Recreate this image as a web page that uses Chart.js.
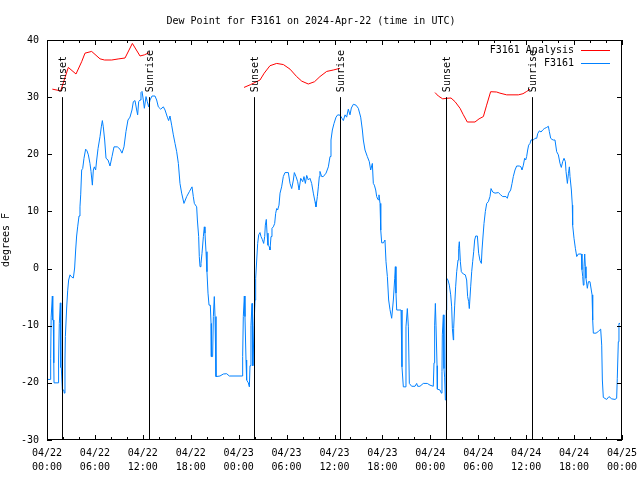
<!DOCTYPE html>
<html>
<head>
<meta charset="utf-8">
<script src="https://cdn.jsdelivr.net/npm/chart.js@4/dist/chart.umd.min.js"></script>
<style>
  html, body { margin: 0; padding: 0; background: #fff; }
  canvas { display: block; }
</style>
</head>
<body>
<canvas id="dew" width="640" height="480"></canvas>
<script>
// hours since 04/22 00:00 UTC
const obsHours = [
  0.0,0.4,0.46,0.52,0.58,0.67,0.72,0.79,0.85,0.88,1.42,1.45,1.54,1.6,1.67,1.73,1.79,1.92,2.1,2.17,2.25,2.3,2.46,2.59,2.71,2.88,3.1,3.3,3.46,3.59,3.71,3.84,4.01,4.13,4.22,
  4.34,4.47,4.63,4.84,5.01,5.18,5.38,5.51,5.68,5.8,5.93,6.09,6.22,6.39,6.64,6.8,6.93,7.05,7.22,7.39,7.64,7.89,8.14,8.39,8.81,9.14,9.39,9.64,9.89,10.14,10.39,10.64,10.81,11.02,11.23,11.35,11.48,11.65,11.77,11.9,12.06,12.19,12.4,12.56,12.73,12.9,13.15,13.52,13.73,13.94,14.23,14.57,14.78,15.07,15.23,15.4,15.61,15.82,16.03,16.24,16.45,16.65,16.86,17.15,17.49,17.82,18.16,18.32,18.45,18.74,
  18.83,18.99,19.07,19.16,19.28,19.41,19.58,19.7,19.78,19.91,20.03,20.16,20.29,20.45,20.54,20.58,20.74,20.83,20.95,21.04,21.16,21.66,22.08,22.5,22.83,24.48,
  24.5,24.58,24.71,24.79,24.92,25.0,25.21,25.34,25.42,25.54,25.67,25.7,25.72,25.74,25.76,25.78,25.8,25.92,26.05,26.13,26.26,26.38,26.51,26.67,26.8,26.96,27.13,27.26,27.34,27.46,27.55,27.67,27.84,27.92,28.05,28.17,28.34,28.51,28.63,28.76,28.88,29.05,
  29.18,29.38,29.59,29.8,30.22,30.43,30.64,30.85,30.97,31.18,31.39,31.56,31.77,32.02,32.18,32.35,32.52,32.72,32.93,33.14,33.35,33.56,33.68,33.85,33.98,34.1,34.18,34.39,34.6,34.94,35.23,35.44,35.56,35.73,35.94,36.19,36.4,36.69,36.94,37.11,37.32,37.52,37.73,37.94,38.11,38.36,38.69,38.98,39.28,39.49,39.61,39.82,40.11,40.36,40.53,40.74,40.86,40.99,41.16,41.28,41.45,41.57,41.7,41.78,
  41.8,41.91,42.12,42.32,42.45,42.62,42.78,42.95,43.16,43.37,43.54,43.62,43.7,43.79,44.33,44.45,44.62,44.83,44.95,45.12,45.25,45.37,45.66,46.08,46.29,46.41,46.7,
  47.12,47.62,47.96,48.37,48.46,48.54,48.63,48.71,48.84,48.88,49.21,49.38,49.46,49.5,49.63,49.71,49.79,49.88,49.96,50.0,50.05,50.21,50.38,50.55,50.67,50.76,50.88,50.92,51.05,51.17,51.3,51.47,51.55,51.63,51.76,51.88,52.13,52.38,52.55,52.67,52.8,52.88,53.05,53.18,53.3,53.43,53.55,53.68,53.89,54.05,54.22,54.39,54.47,54.6,54.72,54.89,55.06,
  55.26,55.47,55.6,55.81,56.1,56.52,56.81,57.06,57.48,57.64,57.81,58.06,58.23,58.39,58.6,58.81,59.14,59.35,59.48,59.65,59.81,59.94,60.06,60.19,60.31,60.48,60.61,60.73,60.9,61.11,61.32,61.44,61.65,61.86,62.07,62.27,62.57,62.78,62.9,63.07,63.24,63.4,63.61,63.82,64.03,64.24,64.4,64.57,64.74,64.91,64.99,65.16,65.29,65.41,65.49,65.66,65.78,
  65.82,65.99,66.16,66.33,66.53,66.91,66.99,67.08,67.16,67.24,67.33,67.41,67.49,67.66,67.79,67.99,68.25,68.33,68.41,68.75,69.04,69.33,69.46,69.54,69.66,70.08,70.37,70.71,71.12,71.33,71.41,71.54,71.62,71.75
];
const obsDew = [
  -19.4,-19.4,-15.8,-8.5,-8.5,-4.8,-9.0,-9.0,-16.5,-20,-20,-16,-9.6,-9.6,-6,-17.3,-17.3,-21.25,-21.25,-21.8,-16,-11.9,-6.9,-3.9,-2,-1.1,-1.5,-1.65,0.1,3.25,5.7,7.3,9.2,10.8,12.9,
  17.25,17.5,19.3,20.9,20.6,19.9,18.4,17.0,14.6,17.25,17.8,17.25,19.0,21.0,23.1,24.8,25.9,24.8,22.5,19.3,19.0,17.95,19.6,21.3,21.3,20.9,20.2,21.3,24.0,26.0,26.5,27.75,29.2,29.4,27.75,26.9,29.2,29.5,30.8,31.0,29.5,28.05,30.1,29.2,28.3,29.5,30.2,30.2,29.5,28.3,27.9,28.3,27.75,26.5,25.9,26.7,25.1,23.4,21.9,20.45,18.4,14.9,13.2,11.4,12.6,13.45,14.3,12.6,11.4,10.8,
  8.5,5.6,2.1,0.33,0.9,2.67,5.6,7.3,6.2,2.95,-0.55,-4.3,-6.4,-6.4,-9.6,-15.4,-15.4,-8.4,-4.9,-8.4,-18.9,-18.8,-18.45,-18.4,-18.8,-18.8,
  -15.4,-8.4,-4.8,-8.4,-16,-19.5,-20,-20.7,-17,-10,-6.1,-11,-17,-11,-17,-12,-17,-10,-5.5,-1.7,1.5,4.4,5.9,6.3,5.6,5.1,4.4,5.6,7.6,8.6,6.2,4.1,3.8,3.25,5.6,7.05,7.3,7.9,9.65,10.5,10.25,11.1,
  13.2,14.3,16.1,16.8,16.8,14.9,14.0,15.5,16.8,16.1,15.2,13.75,15.8,15.2,16.1,14.9,16.3,15.5,15.8,14.9,13.2,11.7,10.8,12.6,14.3,16.1,17.0,16.1,16.1,16.7,17.8,19.6,22.5,24.25,25.4,26.5,26.9,26.85,26.3,25.9,26.9,26.5,27.9,26.9,28.1,28.75,28.6,28.05,26.5,24.25,22.5,20.75,19.6,18.7,17.25,18.4,14.9,14.6,13.75,12.6,12.05,12.9,11.4,10.25,
  6.75,4.5,4.5,5.0,1.2,-1.4,-5.5,-7.2,-8.7,-5.5,-1.7,0.33,-4.3,-7.25,-7.25,-17.2,-20.7,-20.7,-10.2,-7.0,-10.2,-20.1,-20.6,-20.6,-20.1,-20.6,-20.6,
  -20.1,-20.1,-20.4,-20.6,-16.5,-9.9,-6.1,-9.9,-17,-21.1,-21.25,-21.8,-18,-11.6,-8.1,-17.5,-19,-23,-17.6,-7.25,-1.7,-2.0,-2.9,-4.6,-6.7,-10.5,-12.5,-10.5,-6.4,-3.2,-0.55,1.5,3.55,4.7,1.2,-0.55,-0.95,-1.1,-2.0,-4.9,-5.8,-7.0,-3.2,-0.55,1.2,2.95,5.0,5.7,5.7,2.67,1.4,0.9,3.25,5.7,7.9,10.0,11.4,
  11.7,12.6,14.0,13.4,13.2,13.3,12.9,12.6,12.6,12.3,13.2,13.75,14.9,16.1,17.25,17.95,17.95,17.8,17.25,18.1,19.3,19.0,19.6,20.75,21.6,21.9,22.5,22.6,22.5,22.8,22.8,23.6,24.1,23.9,24.25,24.5,24.7,24.9,24.0,22.8,22.6,22.5,22.5,20.45,19.9,18.4,17.7,18.7,19.3,18.7,17.0,14.9,16.6,17.8,16.1,13.75,11.1,
  7.6,5.3,3.55,2.1,2.55,2.55,-0.2,-1.4,-2.9,0.33,2.55,0.33,-1.7,-3.45,-2.3,-2.3,-4.6,-9.0,-11.3,-11.3,-11.0,-10.6,-13.4,-19.5,-22.55,-22.9,-22.4,-22.8,-22.9,-22.7,-19.2,-12.8,-9.6,-9.6
];

// analysis: three night segments, null breaks the line
const anaHours = [
  0.67,1.71,2.67,3.63,4.34,4.76,5.59,6.64,7.2,8.1,9.0,9.77,10.69,11.65,12.2,12.81,
  18.0,
  24.67,25.5,26.67,27.2,27.92,28.76,29.6,30.43,31.26,31.9,32.72,33.5,34.18,35.02,35.85,36.69,
  42.0,
  48.59,49.0,49.55,50.05,50.59,51.1,51.72,52.1,52.63,53.59,54.1,54.64,55.05,55.55,56.3,56.72,57.56,59.02,59.6,60.07,60.48
];
const anaDew = [
  31.4,31.1,35.2,34.05,36.2,37.7,38.0,36.7,36.5,36.5,36.7,36.85,39.4,37.2,37.4,37.8,
  null,
  31.7,32.2,33.0,34.2,35.5,35.9,35.7,34.9,33.6,32.8,32.3,32.7,33.6,34.5,34.75,35.05,
  null,
  30.8,30.2,29.7,29.8,29.85,29.2,28.05,27.0,25.65,25.65,26.2,26.6,28.6,30.95,30.9,30.7,30.4,30.4,30.6,31.0,31.4
];

const sunsetHours = [1.93, 25.96, 49.99];
const sunriseHours = [12.81, 36.73, 60.76];
const yTicks = [-30, -20, -10, 0, 10, 20, 30, 40];

const MONO = "'DejaVu Sans Mono', 'Liberation Mono', monospace";
const BLUE = '#0080ff';
const RED = '#ff0000';

function hourLabel(h){
  const day = 22 + Math.floor(h / 24);
  const hh = Math.round(h % 24);
  return ['04/' + day, (hh < 10 ? '0' : '') + hh + ':00'];
}

const frame = {
  id: 'frame',
  afterDatasetsDraw(chart){
    const {ctx, chartArea: a, scales: {x, y}} = chart;
    ctx.save();
    // sunrise / sunset markers
    ctx.strokeStyle = '#000';
    ctx.lineWidth = 1;
    ctx.fillStyle = '#000';
    ctx.font = '10px ' + MONO;
    const marks = sunsetHours.map(h => [h, 'Sunset']).concat(sunriseHours.map(h => [h, 'Sunrise']));
    marks.forEach(([h, txt]) => {
      const px = Math.round(x.getPixelForValue(h)) + 0.5;
      ctx.beginPath();
      ctx.moveTo(px, y.getPixelForValue(30));
      ctx.lineTo(px, y.getPixelForValue(-30));
      ctx.stroke();
      ctx.save();
      ctx.translate(px + 1, y.getPixelForValue(30) - 5);
      ctx.rotate(-Math.PI / 2);
      ctx.textAlign = 'left';
      ctx.textBaseline = 'middle';
      ctx.fillText(txt, 0, 0);
      ctx.restore();
    });
    // border
    ctx.strokeRect(a.left + 0.5, a.top + 0.5, a.right - a.left - 1, a.bottom - a.top - 1);
    // inward ticks
    ctx.beginPath();
    for (let h = 0; h <= 72; h += 2) {
      const px = Math.round(x.getPixelForValue(h)) + 0.5;
      const len = h % 6 === 0 ? 5 : 3;
      ctx.moveTo(px, a.bottom); ctx.lineTo(px, a.bottom - len);
      ctx.moveTo(px, a.top); ctx.lineTo(px, a.top + len);
    }
    yTicks.forEach(v => {
      const py = Math.round(y.getPixelForValue(v)) + 0.5;
      ctx.moveTo(a.left, py); ctx.lineTo(a.left + 5, py);
      ctx.moveTo(a.right, py); ctx.lineTo(a.right - 5, py);
    });
    ctx.stroke();
    // key, gnuplot style
    ctx.textAlign = 'right';
    ctx.textBaseline = 'middle';
    chart.data.datasets.forEach((ds, i) => {
      const ly = 50 + i * 13;
      ctx.fillStyle = '#000';
      ctx.fillText(ds.label, 574, ly);
      ctx.strokeStyle = ds.borderColor;
      ctx.beginPath();
      ctx.moveTo(581, ly + 0.5); ctx.lineTo(610, ly + 0.5);
      ctx.stroke();
    });
    ctx.restore();
  }
};

new Chart(document.getElementById('dew'), {
  type: 'line',
  data: {
    datasets: [
      { label: 'F3161 Analysis', data: anaHours.map((h, i) => ({x: h, y: anaDew[i]})), borderColor: RED, borderWidth: 1, pointRadius: 0, spanGaps: false },
      { label: 'F3161', data: obsHours.map((h, i) => ({x: h, y: obsDew[i]})), borderColor: BLUE, borderWidth: 1, pointRadius: 0 }
    ]
  },
  options: {
    responsive: false,
    animation: false,
    layout: { padding: { right: 18 } },
    plugins: {
      legend: { display: false },
      tooltip: { enabled: false },
      title: {
        display: true,
        text: 'Dew Point for F3161 on 2024-Apr-22 (time in UTC)',
        color: '#000',
        font: { family: MONO, size: 10, weight: 'normal' },
        padding: { top: 15, bottom: 13 }
      }
    },
    scales: {
      x: {
        type: 'linear', min: 0, max: 72,
        grid: { display: false, drawTicks: false },
        border: { display: false },
        afterFit(s){ s.height = 40; s.paddingLeft = 0; s.paddingRight = 0; },
        ticks: {
          stepSize: 6, autoSkip: false, maxRotation: 0, padding: 6, color: '#000',
          font: { family: MONO, size: 10, lineHeight: 1.4 },
          callback: v => hourLabel(v)
        }
      },
      y: {
        min: -30, max: 40,
        grid: { display: false, drawTicks: false },
        border: { display: false },
        afterFit(s){ s.width = 47; s.paddingTop = 0; s.paddingBottom = 0; },
        title: { display: true, text: 'degrees F', color: '#000', font: { family: MONO, size: 10 }, padding: { top: 0, bottom: 0 } },
        ticks: { stepSize: 10, padding: 8, color: '#000', font: { family: MONO, size: 10 } }
      }
    }
  },
  plugins: [frame]
});
</script>
</body>
</html>
